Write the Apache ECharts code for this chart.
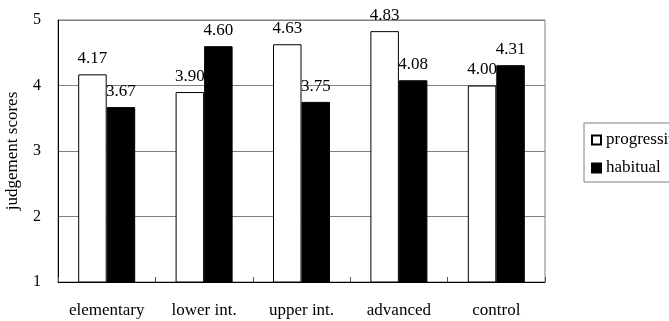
<!DOCTYPE html>
<html>
<head>
<meta charset="utf-8">
<script src="https://cdn.jsdelivr.net/npm/echarts@6/dist/echarts.min.js"></script>
<style>
  html, body { margin: 0; padding: 0; background: #fff; }
  #chart { width: 669px; height: 321px; }
</style>
</head>
<body>
<div id="chart"></div>
<script>
// Groups of learners
const categories = ['elementary', 'lower int.', 'upper int.', 'advanced', 'control'];
// Mean judgement scores per aspect
const progressive = [4.17, 3.90, 4.63, 4.83, 4.00];
const habitual = [3.67, 4.60, 3.75, 4.08, 4.31];
// Value axis range
const yMin = 1, yMax = 5, yStep = 1;

const FONT = '"Liberation Serif", "Times New Roman", serif';

const chart = echarts.init(document.getElementById('chart'), null, { renderer: 'canvas' });

const valueLabel = {
  show: true,
  position: 'top',
  distance: 7,
  color: '#000',
  fontFamily: FONT,
  fontSize: 17,
  formatter: p => p.value.toFixed(2)
};

chart.setOption({
  animation: false,
  backgroundColor: '#fff',
  grid: {
    left: 58, top: 20, right: 124, bottom: 39,
    outerBoundsMode: 'none',
    show: true, borderColor: '#808080', borderWidth: 1, backgroundColor: 'transparent'
  },
  legend: {
    orient: 'vertical',
    left: 584, top: 123,
    padding: [8, 6, 5, 7],
    itemGap: 10,
    itemWidth: 9, itemHeight: 9,
    icon: 'rect',
    borderColor: '#808080', borderWidth: 1,
    textStyle: { fontFamily: FONT, fontSize: 17, color: '#000', lineHeight: 18 },
    data: ['progressive', 'habitual']
  },
  xAxis: {
    type: 'category',
    data: categories,
    axisLine: { lineStyle: { color: '#000', width: 1 } },
    axisTick: { show: true, inside: true, length: 5, lineStyle: { color: '#555' } },
    axisLabel: {
      color: '#000', fontFamily: FONT, fontSize: 17, margin: 20,
      interval: 0, hideOverlap: false
    }
  },
  yAxis: {
    type: 'value',
    min: yMin, max: yMax, interval: yStep,
    name: 'judgement scores',
    nameLocation: 'middle',
    nameGap: 37,
    nameTextStyle: { color: '#000', fontFamily: FONT, fontSize: 17 },
    axisLine: { show: true, lineStyle: { color: '#000', width: 1 } },
    axisTick: { show: false },
    axisLabel: { color: '#000', fontFamily: FONT, fontSize: 16, margin: 17 },
    splitLine: { show: true, lineStyle: { color: '#808080', width: 1 } }
  },
  series: [
    {
      name: 'progressive',
      type: 'bar',
      data: progressive,
      barWidth: 28.5,
      barGap: '0%',
      itemStyle: { color: '#fff', borderColor: '#000', borderWidth: 1 },
      label: valueLabel
    },
    {
      name: 'habitual',
      type: 'bar',
      data: habitual,
      barWidth: 28.5,
      barGap: '0%',
      itemStyle: { color: '#000', borderColor: '#000', borderWidth: 1 },
      label: valueLabel
    }
  ]
});
</script>
</body>
</html>
